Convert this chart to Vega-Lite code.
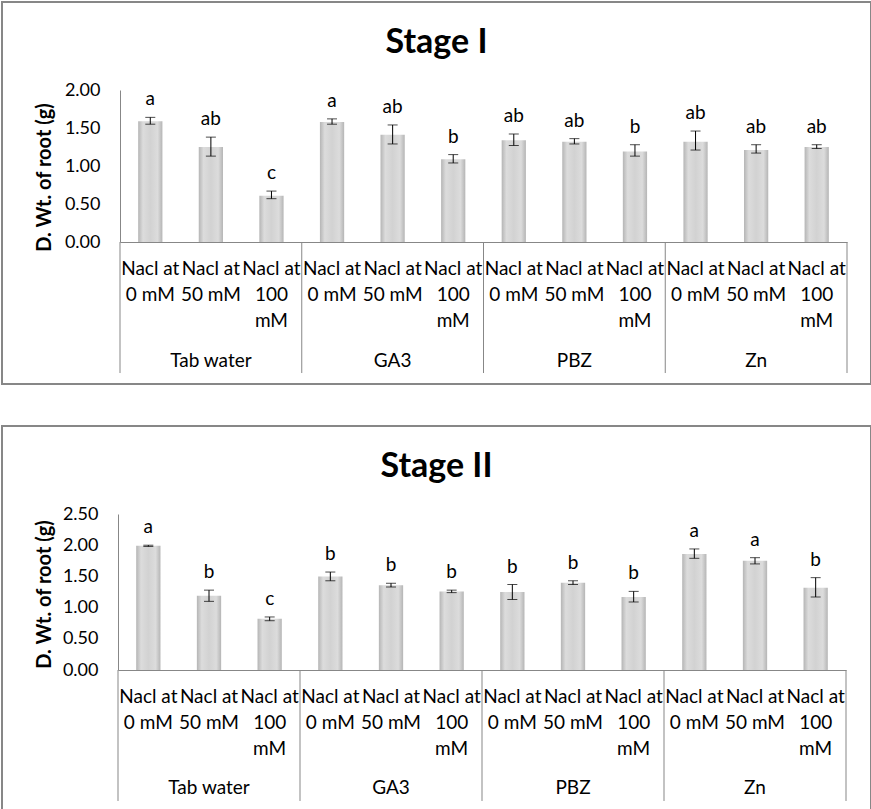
{
  "$schema": "https://vega.github.io/schema/vega-lite/v6.json",
  "padding": {"left": 1, "top": 1, "right": 0, "bottom": 0},
  "background": "white",
  "spacing": 40,
  "config": {"view": {"stroke": "#878787", "strokeWidth": 2}, "font": "Lato"},
  "data": {"values": [
    {"stage": "Stage I", "group": "Tab water", "conc": "0 mM", "id": "Tab water|0 mM", "mean": 1.59, "lo": 1.55, "hi": 1.64, "letter": "a"},
    {"stage": "Stage I", "group": "Tab water", "conc": "50 mM", "id": "Tab water|50 mM", "mean": 1.25, "lo": 1.13, "hi": 1.38, "letter": "ab"},
    {"stage": "Stage I", "group": "Tab water", "conc": "100 mM", "id": "Tab water|100 mM", "mean": 0.61, "lo": 0.57, "hi": 0.67, "letter": "c"},
    {"stage": "Stage I", "group": "GA3", "conc": "0 mM", "id": "GA3|0 mM", "mean": 1.58, "lo": 1.55, "hi": 1.62, "letter": "a"},
    {"stage": "Stage I", "group": "GA3", "conc": "50 mM", "id": "GA3|50 mM", "mean": 1.41, "lo": 1.29, "hi": 1.54, "letter": "ab"},
    {"stage": "Stage I", "group": "GA3", "conc": "100 mM", "id": "GA3|100 mM", "mean": 1.09, "lo": 1.04, "hi": 1.15, "letter": "b"},
    {"stage": "Stage I", "group": "PBZ", "conc": "0 mM", "id": "PBZ|0 mM", "mean": 1.34, "lo": 1.27, "hi": 1.42, "letter": "ab"},
    {"stage": "Stage I", "group": "PBZ", "conc": "50 mM", "id": "PBZ|50 mM", "mean": 1.32, "lo": 1.29, "hi": 1.36, "letter": "ab"},
    {"stage": "Stage I", "group": "PBZ", "conc": "100 mM", "id": "PBZ|100 mM", "mean": 1.19, "lo": 1.13, "hi": 1.28, "letter": "b"},
    {"stage": "Stage I", "group": "Zn", "conc": "0 mM", "id": "Zn|0 mM", "mean": 1.32, "lo": 1.21, "hi": 1.46, "letter": "ab"},
    {"stage": "Stage I", "group": "Zn", "conc": "50 mM", "id": "Zn|50 mM", "mean": 1.21, "lo": 1.17, "hi": 1.28, "letter": "ab"},
    {"stage": "Stage I", "group": "Zn", "conc": "100 mM", "id": "Zn|100 mM", "mean": 1.25, "lo": 1.23, "hi": 1.28, "letter": "ab"},
    {"stage": "Stage II", "group": "Tab water", "conc": "0 mM", "id": "Tab water|0 mM", "mean": 1.99, "lo": 1.98, "hi": 2.0, "letter": "a"},
    {"stage": "Stage II", "group": "Tab water", "conc": "50 mM", "id": "Tab water|50 mM", "mean": 1.19, "lo": 1.1, "hi": 1.28, "letter": "b"},
    {"stage": "Stage II", "group": "Tab water", "conc": "100 mM", "id": "Tab water|100 mM", "mean": 0.82, "lo": 0.79, "hi": 0.85, "letter": "c"},
    {"stage": "Stage II", "group": "GA3", "conc": "0 mM", "id": "GA3|0 mM", "mean": 1.5, "lo": 1.43, "hi": 1.57, "letter": "b"},
    {"stage": "Stage II", "group": "GA3", "conc": "50 mM", "id": "GA3|50 mM", "mean": 1.36, "lo": 1.33, "hi": 1.39, "letter": "b"},
    {"stage": "Stage II", "group": "GA3", "conc": "100 mM", "id": "GA3|100 mM", "mean": 1.26, "lo": 1.24, "hi": 1.28, "letter": "b"},
    {"stage": "Stage II", "group": "PBZ", "conc": "0 mM", "id": "PBZ|0 mM", "mean": 1.25, "lo": 1.13, "hi": 1.37, "letter": "b"},
    {"stage": "Stage II", "group": "PBZ", "conc": "50 mM", "id": "PBZ|50 mM", "mean": 1.4, "lo": 1.37, "hi": 1.43, "letter": "b"},
    {"stage": "Stage II", "group": "PBZ", "conc": "100 mM", "id": "PBZ|100 mM", "mean": 1.17, "lo": 1.09, "hi": 1.26, "letter": "b"},
    {"stage": "Stage II", "group": "Zn", "conc": "0 mM", "id": "Zn|0 mM", "mean": 1.86, "lo": 1.79, "hi": 1.94, "letter": "a"},
    {"stage": "Stage II", "group": "Zn", "conc": "50 mM", "id": "Zn|50 mM", "mean": 1.75, "lo": 1.7, "hi": 1.8, "letter": "a"},
    {"stage": "Stage II", "group": "Zn", "conc": "100 mM", "id": "Zn|100 mM", "mean": 1.32, "lo": 1.17, "hi": 1.48, "letter": "b"}
  ]},
  "vconcat": [
    {
      "width": 869,
      "height": 382,
      "title": {"text": "Stage I", "font": "Lato", "fontSize": 34, "fontWeight": "bold", "color": "#000", "anchor": "middle", "frame": "group", "offset": -85, "baseline": "alphabetic"},
      "transform": [{"filter": "datum.stage == 'Stage I'"}],
      "layer": [
        {
          "mark": {"type": "bar", "width": {"band": 0.4}, "fill": {"gradient": "linear", "x1": 0, "y1": 0, "x2": 1, "y2": 0, "stops": [{"offset": 0, "color": "#b5b5b5"}, {"offset": 0.2, "color": "#dcdcdc"}, {"offset": 0.5, "color": "#d2d2d2"}, {"offset": 0.8, "color": "#dcdcdc"}, {"offset": 1, "color": "#b5b5b5"}]}},
          "encoding": {
            "x": {"field": "id", "type": "nominal",
              "scale": {"domain": ["Tab water|0 mM", "Tab water|50 mM", "Tab water|100 mM", "GA3|0 mM", "GA3|50 mM", "GA3|100 mM", "PBZ|0 mM", "PBZ|50 mM", "PBZ|100 mM", "Zn|0 mM", "Zn|50 mM", "Zn|100 mM"], "range": [118, 845], "paddingInner": 0, "paddingOuter": 0},
              "axis": {"title": null, "orient": "bottom", "offset": -142, "domainColor": "#878787", "domainWidth": 1, "ticks": false, "grid": false, "labelAngle": 0, "labelFont": "Lato", "labelFontSize": 19, "labelColor": "#000", "labelLineHeight": 26, "labelPadding": 17, "labelOverlap": false, "labelBound": false, "labelFlush": false,
                "labelExpr": "split(datum.value,'|')[1] == '100 mM' ? ['Nacl at','100','mM'] : ['Nacl at', split(datum.value,'|')[1]]"}},
            "y": {"field": "mean", "type": "quantitative", "title": "D. Wt. of root (g)",
              "scale": {"domain": [0, 2], "range": [240, 88], "nice": false, "zero": true},
              "axis": {"offset": -118, "domainColor": "#878787", "ticks": false, "grid": false, "values": [0, 0.5, 1, 1.5, 2], "format": ".2f", "labelFont": "Lato", "labelFontSize": 18, "labelColor": "#000", "labelPadding": 20, "titleFont": "Lato", "titleFontSize": 20, "titleFontWeight": "bold", "titleColor": "#000", "titleX": -76, "titleY": 175, "titleAngle": -90, "titleAlign": "center", "titleBaseline": "middle"}}
          }
        },
        {
          "mark": {"type": "rule", "color": "#000", "strokeWidth": 1},
          "encoding": {"x": {"field": "id", "type": "nominal"}, "y": {"field": "lo", "type": "quantitative", "title": "D. Wt. of root (g)"}, "y2": {"field": "hi"}}
        },
        {
          "mark": {"type": "tick", "color": "#000", "size": 10, "thickness": 1},
          "encoding": {"x": {"field": "id", "type": "nominal"}, "y": {"field": "lo", "type": "quantitative", "title": "D. Wt. of root (g)"}}
        },
        {
          "mark": {"type": "tick", "color": "#000", "size": 10, "thickness": 1},
          "encoding": {"x": {"field": "id", "type": "nominal"}, "y": {"field": "hi", "type": "quantitative", "title": "D. Wt. of root (g)"}}
        },
        {
          "mark": {"type": "text", "dy": -18, "baseline": "middle", "font": "Lato", "fontSize": 19, "color": "#000"},
          "encoding": {"x": {"field": "id", "type": "nominal"}, "y": {"field": "hi", "type": "quantitative", "title": "D. Wt. of root (g)"}, "text": {"field": "letter"}}
        },
        {
          "transform": [{"filter": "datum.conc == '50 mM'"}],
          "mark": {"type": "text", "baseline": "middle", "font": "Lato", "fontSize": 19, "color": "#000"},
          "encoding": {"x": {"field": "id", "type": "nominal"}, "y": {"datum": -1.566, "type": "quantitative", "title": "D. Wt. of root (g)"}, "text": {"field": "group"}}
        },
        {
          "transform": [{"filter": "datum.conc == '0 mM'"}],
          "mark": {"type": "rule", "color": "#878787", "strokeWidth": 1},
          "encoding": {"x": {"field": "id", "type": "nominal", "bandPosition": 0}, "y": {"datum": 0, "type": "quantitative", "title": "D. Wt. of root (g)"}, "y2": {"datum": -1.724}}
        },
        {
          "transform": [{"filter": "datum.id == 'Zn|100 mM'"}],
          "mark": {"type": "rule", "color": "#878787", "strokeWidth": 1},
          "encoding": {"x": {"field": "id", "type": "nominal", "bandPosition": 1}, "y": {"datum": 0, "type": "quantitative", "title": "D. Wt. of root (g)"}, "y2": {"datum": -1.724}}
        }
      ]
    },
    {
      "width": 869,
      "height": 385,
      "title": {"text": "Stage II", "font": "Lato", "fontSize": 34, "fontWeight": "bold", "color": "#000", "anchor": "middle", "frame": "group", "offset": -85, "baseline": "alphabetic"},
      "transform": [{"filter": "datum.stage == 'Stage II'"}],
      "layer": [
        {
          "mark": {"type": "bar", "width": {"band": 0.4}, "fill": {"gradient": "linear", "x1": 0, "y1": 0, "x2": 1, "y2": 0, "stops": [{"offset": 0, "color": "#b5b5b5"}, {"offset": 0.2, "color": "#dcdcdc"}, {"offset": 0.5, "color": "#d2d2d2"}, {"offset": 0.8, "color": "#dcdcdc"}, {"offset": 1, "color": "#b5b5b5"}]}},
          "encoding": {
            "x": {"field": "id", "type": "nominal",
              "scale": {"domain": ["Tab water|0 mM", "Tab water|50 mM", "Tab water|100 mM", "GA3|0 mM", "GA3|50 mM", "GA3|100 mM", "PBZ|0 mM", "PBZ|50 mM", "PBZ|100 mM", "Zn|0 mM", "Zn|50 mM", "Zn|100 mM"], "range": [116, 844], "paddingInner": 0, "paddingOuter": 0},
              "axis": {"title": null, "orient": "bottom", "offset": -141, "domainColor": "#878787", "domainWidth": 1, "ticks": false, "grid": false, "labelAngle": 0, "labelFont": "Lato", "labelFontSize": 19, "labelColor": "#000", "labelLineHeight": 26, "labelPadding": 17, "labelOverlap": false, "labelBound": false, "labelFlush": false,
                "labelExpr": "split(datum.value,'|')[1] == '100 mM' ? ['Nacl at','100','mM'] : ['Nacl at', split(datum.value,'|')[1]]"}},
            "y": {"field": "mean", "type": "quantitative", "title": "D. Wt. of root (g)",
              "scale": {"domain": [0, 2.5], "range": [244, 88], "nice": false, "zero": true},
              "axis": {"offset": -116, "domainColor": "#878787", "ticks": false, "grid": false, "values": [0, 0.5, 1, 1.5, 2, 2.5], "format": ".2f", "labelFont": "Lato", "labelFontSize": 18, "labelColor": "#000", "labelPadding": 20, "titleFont": "Lato", "titleFontSize": 20, "titleFontWeight": "bold", "titleColor": "#000", "titleX": -74, "titleY": 168, "titleAngle": -90, "titleAlign": "center", "titleBaseline": "middle"}}
          }
        },
        {
          "mark": {"type": "rule", "color": "#000", "strokeWidth": 1},
          "encoding": {"x": {"field": "id", "type": "nominal"}, "y": {"field": "lo", "type": "quantitative", "title": "D. Wt. of root (g)"}, "y2": {"field": "hi"}}
        },
        {
          "mark": {"type": "tick", "color": "#000", "size": 10, "thickness": 1},
          "encoding": {"x": {"field": "id", "type": "nominal"}, "y": {"field": "lo", "type": "quantitative", "title": "D. Wt. of root (g)"}}
        },
        {
          "mark": {"type": "tick", "color": "#000", "size": 10, "thickness": 1},
          "encoding": {"x": {"field": "id", "type": "nominal"}, "y": {"field": "hi", "type": "quantitative", "title": "D. Wt. of root (g)"}}
        },
        {
          "mark": {"type": "text", "dy": -18, "baseline": "middle", "font": "Lato", "fontSize": 19, "color": "#000"},
          "encoding": {"x": {"field": "id", "type": "nominal"}, "y": {"field": "hi", "type": "quantitative", "title": "D. Wt. of root (g)"}, "text": {"field": "letter"}}
        },
        {
          "transform": [{"filter": "datum.conc == '50 mM'"}],
          "mark": {"type": "text", "baseline": "middle", "font": "Lato", "fontSize": 19, "color": "#000"},
          "encoding": {"x": {"field": "id", "type": "nominal"}, "y": {"datum": -1.89, "type": "quantitative", "title": "D. Wt. of root (g)"}, "text": {"field": "group"}}
        },
        {
          "transform": [{"filter": "datum.conc == '0 mM'"}],
          "mark": {"type": "rule", "color": "#878787", "strokeWidth": 1},
          "encoding": {"x": {"field": "id", "type": "nominal", "bandPosition": 0}, "y": {"datum": 0, "type": "quantitative", "title": "D. Wt. of root (g)"}, "y2": {"datum": -2.099}}
        },
        {
          "transform": [{"filter": "datum.id == 'Zn|100 mM'"}],
          "mark": {"type": "rule", "color": "#878787", "strokeWidth": 1},
          "encoding": {"x": {"field": "id", "type": "nominal", "bandPosition": 1}, "y": {"datum": 0, "type": "quantitative", "title": "D. Wt. of root (g)"}, "y2": {"datum": -2.099}}
        }
      ]
    }
  ]
}
